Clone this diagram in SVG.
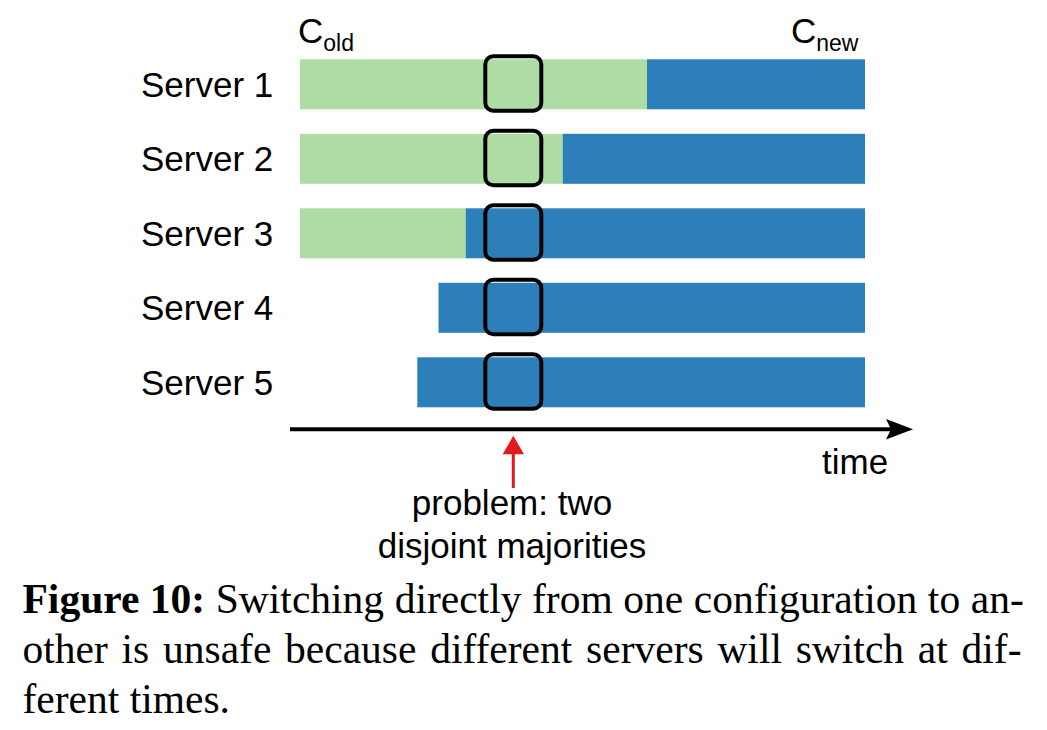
<svg xmlns="http://www.w3.org/2000/svg" width="1047" height="730" viewBox="0 0 1047 730">
<style>
.lbl{font-family:"Liberation Sans",Arial,sans-serif;font-size:35px;fill:#000}
.sub{font-size:23px}
.old{fill:#addda5}
.new{fill:#2c7fb8}
.win{fill:none;stroke:#000;stroke-width:4}
.cap{font-family:"Liberation Serif","Times New Roman",serif;font-size:41.5px;fill:#000}
</style>
<rect width="1047" height="730" fill="#fff"/>
<g id="headers">
<text class="lbl" x="298" y="43">C<tspan class="sub" dy="7.5">old</tspan></text>
<text class="lbl" x="791" y="43">C<tspan class="sub" dy="7.5">new</tspan></text>
</g>
<g id="server1">
<text class="lbl" x="141" y="96.7">Server 1</text>
<rect class="old" x="300" y="59.3" width="347" height="50"/>
<rect class="new" x="647" y="59.3" width="218" height="50"/>
<rect class="win" x="485.3" y="56.3" width="56" height="54.4" rx="8"/>
</g>
<g id="server2">
<text class="lbl" x="141" y="171.2">Server 2</text>
<rect class="old" x="300" y="133.8" width="262.7" height="50"/>
<rect class="new" x="562.7" y="133.8" width="302.3" height="50"/>
<rect class="win" x="485.3" y="130.8" width="56" height="54.4" rx="8"/>
</g>
<g id="server3">
<text class="lbl" x="141" y="245.7">Server 3</text>
<rect class="old" x="300" y="208.3" width="165.7" height="50"/>
<rect class="new" x="465.7" y="208.3" width="399.3" height="50"/>
<rect class="win" x="485.3" y="205.3" width="56" height="54.4" rx="8"/>
</g>
<g id="server4">
<text class="lbl" x="141" y="320.2">Server 4</text>
<rect class="new" x="438.5" y="282.8" width="426.5" height="50"/>
<rect class="win" x="485.3" y="279.8" width="56" height="54.4" rx="8"/>
</g>
<g id="server5">
<text class="lbl" x="141" y="394.7">Server 5</text>
<rect class="new" x="417.3" y="357.3" width="447.7" height="50"/>
<rect class="win" x="485.3" y="354.3" width="56" height="54.4" rx="8"/>
</g>
<g id="connectors">
<line x1="290" y1="429.3" x2="892" y2="429.3" stroke="#000" stroke-width="4"/>
<path d="M913,429.3 L886,419 L891,429.3 L886,439.6 Z" fill="#000"/>
<line x1="513.3" y1="488" x2="513.3" y2="452" stroke="#e31a1c" stroke-width="3"/>
<path d="M513.3,435.7 L524,454.3 L502.7,454.3 Z" fill="#e31a1c"/>
</g>
<g id="labels">
<text class="lbl" x="822" y="474">time</text>
<text class="lbl" x="512" y="515" text-anchor="middle">problem: two</text>
<text class="lbl" x="512" y="558" text-anchor="middle">disjoint majorities</text>
</g>
<g id="caption">
<text class="cap" x="22.5" y="613" word-spacing="0.2"><tspan font-weight="bold">Figure 10:</tspan> Switching directly from one configuration to an-</text>
<text class="cap" x="22.5" y="663" word-spacing="3.4">other is unsafe because different servers will switch at dif-</text>
<text class="cap" x="22.5" y="713">ferent times.</text>
</g>
</svg>
